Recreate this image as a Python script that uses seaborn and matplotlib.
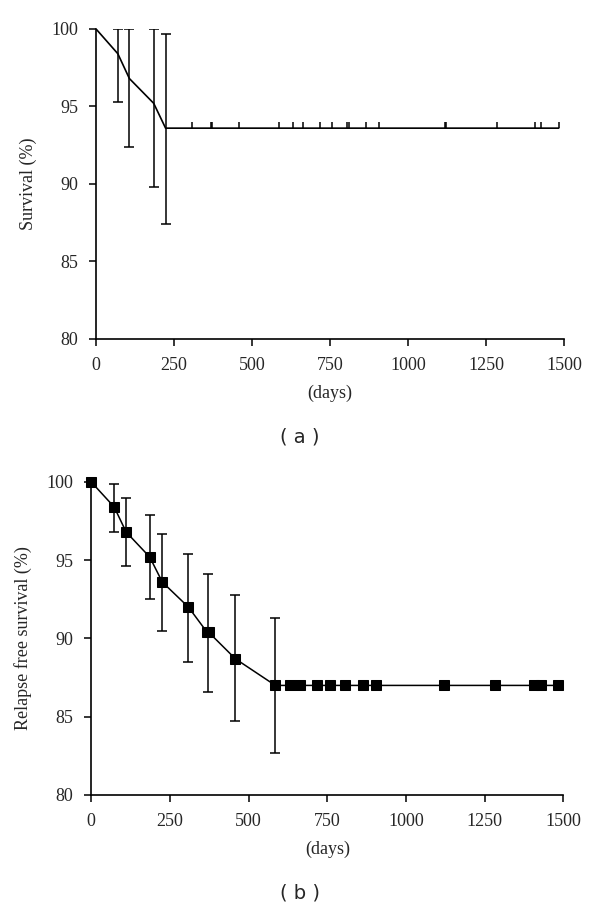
import numpy as np
import pandas as pd
import matplotlib
matplotlib.use('Agg')
import matplotlib.pyplot as plt
import seaborn as sns

sns.set_style('ticks')
plt.rcParams['font.family'] = ['Liberation Serif', 'DejaVu Serif']

# (a) overall survival
surv_days = [0, 70, 107, 185, 223]
surv_pct = [100, 98.4, 96.8, 95.2, 93.6]
surv_err_days = [70, 107, 185, 223]
surv_err_mid = [98.4, 96.8, 95.2, 93.6]
surv_low = [95.3, 92.4, 89.8, 87.4]
surv_high = [100, 100, 100, 99.7]
surv_cens_days = [308, 367, 372, 458, 585, 633, 664, 719, 758, 803, 810,
                  866, 907, 1118, 1122, 1284, 1408, 1427, 1483]

# (b) relapse free survival
rfs_days = [0, 73, 111, 186, 226, 309, 368, 373, 458, 585]
rfs_pct = [100, 98.4, 96.8, 95.2, 93.6, 92.0, 90.4, 90.4, 88.7, 87.0]
rfs_err_days = [73, 111, 186, 226, 309, 371, 458, 585]
rfs_err_mid = [98.4, 96.8, 95.2, 93.6, 92.0, 90.4, 88.7, 87.0]
rfs_low = [96.8, 94.6, 92.5, 90.5, 88.5, 86.6, 84.7, 82.7]
rfs_high = [99.9, 99.0, 97.9, 96.7, 95.4, 94.1, 92.75, 91.3]
rfs_cens_days = [631, 662, 718, 757, 807, 864, 906, 1122, 1284, 1408, 1428, 1482]

fig = plt.figure(figsize=(6, 9.1), dpi=100)
ax1 = fig.add_axes([0.16, 0.6275, 0.78, 0.3407])
ax2 = fig.add_axes([0.152, 0.1264, 0.787, 0.344])

# panel a
xa = surv_days + surv_cens_days
ya = surv_pct + [surv_pct[-1]] * len(surv_cens_days)
sns.lineplot(x=xa, y=ya, ax=ax1, color='black', lw=1.2, estimator=None, sort=False)
mid = np.array(surv_err_mid)
ax1.errorbar(surv_err_days, mid, yerr=[mid - np.array(surv_low), np.array(surv_high) - mid],
             fmt='none', ecolor='black', elinewidth=1.1, capsize=3.5, capthick=1.1)
ax1.plot(surv_cens_days, [surv_pct[-1]] * len(surv_cens_days), ls='none',
         marker=2, ms=4, mew=1.1, color='black')
ax1.set_ylabel('Survival (%)', fontsize=13, labelpad=10)

# panel b
xb = rfs_days + rfs_cens_days
yb = rfs_pct + [rfs_pct[-1]] * len(rfs_cens_days)
mid = np.array(rfs_err_mid)
ax2.errorbar(rfs_err_days, mid, yerr=[mid - np.array(rfs_low), np.array(rfs_high) - mid],
             fmt='none', ecolor='black', elinewidth=1.1, capsize=3.5, capthick=1.1)
sns.lineplot(x=xb, y=yb, ax=ax2, color='black', lw=1.1, estimator=None, sort=False,
             marker='s', markersize=6.5, markeredgecolor='black', clip_on=False)
ax2.set_ylabel('Relapse free survival (%)', fontsize=13, labelpad=10)

for ax in (ax1, ax2):
    ax.set_xlim(0, 1500)
    ax.set_ylim(80, 100)
    ax.set_xticks([0, 250, 500, 750, 1000, 1250, 1500])
    ax.set_yticks([80, 85, 90, 95, 100])
    ax.tick_params(labelsize=13, length=5, width=1.1, color='black', pad=8)
    for s in ('left', 'bottom'):
        ax.spines[s].set_linewidth(1.2)
        ax.spines[s].set_color('black')
    sns.despine(ax=ax)
    ax.set_xlabel('(days)', fontsize=13, labelpad=8)

fig.text(0.5, 1 - 437 / 910, '( a )', ha='center', va='center', fontsize=14, family='DejaVu Sans')
fig.text(0.5, 1 - 893 / 910, '( b )', ha='center', va='center', fontsize=14, family='DejaVu Sans')

fig.savefig('out.png', dpi=100)
